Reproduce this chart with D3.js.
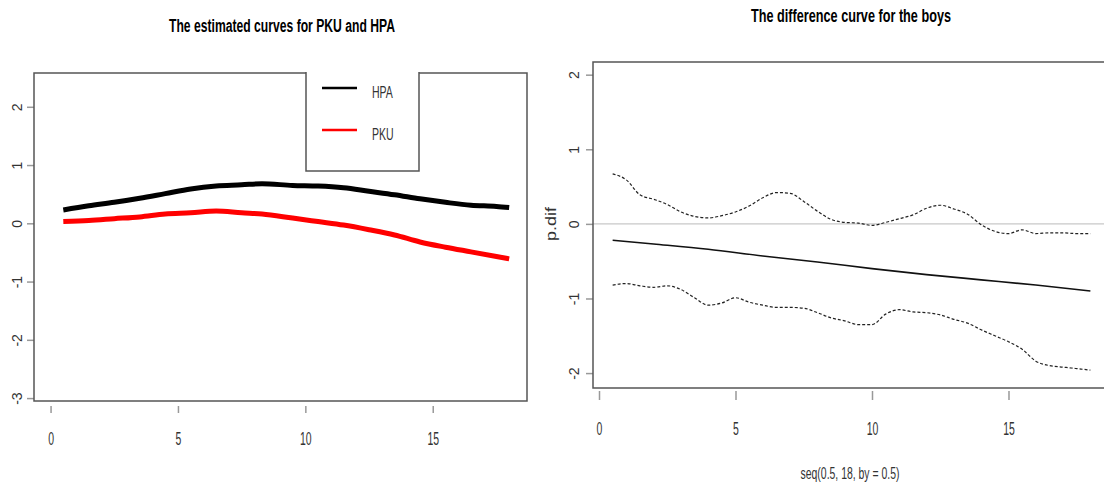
<!DOCTYPE html>
<html>
<head>
<meta charset="utf-8">
<script src="https://cdn.jsdelivr.net/npm/d3@7"></script>
<style>
    body { margin: 0; background: #fff; }
    svg { display: block; }
    text { font-family: "Liberation Sans", Arial, sans-serif; }
</style>
</head>
<body>
<div id="chart"></div>
<script>
// ---- data ----
const ageGrid = [0.5, 1.5, 2.5, 3.5, 4.5, 5.5, 6.5, 7.5, 8.3, 9.5, 10.5, 11.5, 12.5, 13.5, 14.5, 15.5, 16.5, 17.5, 18];
const hpaValues = [0.23, 0.30, 0.36, 0.43, 0.51, 0.59, 0.64, 0.66, 0.68, 0.65, 0.64, 0.61, 0.55, 0.49, 0.42, 0.36, 0.31, 0.29, 0.27];
const pkuValues = [0.03, 0.05, 0.08, 0.11, 0.16, 0.18, 0.21, 0.18, 0.16, 0.09, 0.03, -0.03, -0.11, -0.20, -0.32, -0.41, -0.49, -0.57, -0.61];

const seqGrid = [0.5, 1, 1.5, 2, 2.5, 3, 3.5, 4, 4.5, 5, 5.5, 6, 6.5, 7, 7.5, 8, 8.5, 9, 9.5,
    10, 10.5, 11, 11.5, 12, 12.5, 13, 13.5, 14, 14.5, 15, 15.5, 16, 16.5, 17, 17.5, 18];
const upperBand = [0.67, 0.59, 0.39, 0.33, 0.26, 0.16, 0.10, 0.08, 0.11, 0.16, 0.24, 0.35, 0.42, 0.41, 0.30, 0.17, 0.06, 0.02, 0.01,
    -0.02, 0.02, 0.07, 0.12, 0.21, 0.25, 0.20, 0.13, -0.01, -0.10, -0.13, -0.08, -0.13, -0.12, -0.12, -0.13, -0.13];
const lowerBand = [-0.82, -0.80, -0.83, -0.85, -0.83, -0.88, -0.99, -1.09, -1.06, -0.99, -1.05, -1.09, -1.12, -1.12, -1.13, -1.19, -1.26, -1.30, -1.35,
    -1.35, -1.21, -1.15, -1.18, -1.19, -1.22, -1.28, -1.33, -1.42, -1.50, -1.58, -1.68, -1.84, -1.90, -1.92, -1.94, -1.96];
const difGrid = [0.5, 2, 4, 6, 8, 10, 12, 14, 16, 18];
const difValues = [-0.22, -0.27, -0.34, -0.43, -0.51, -0.60, -0.68, -0.75, -0.82, -0.90];

const xTicks = [0, 5, 10, 15];
const leftYTicks = [-3, -2, -1, 0, 1, 2];
const rightYTicks = [-2, -1, 0, 1, 2];
const legendNames = ["HPA", "PKU"];
const legendColors = ["#000000", "#ff0000"];

const W = 1104, H = 490;
const svg = d3.select("#chart").append("svg")
    .attr("width", W).attr("height", H);

const boxColor = "#555";
const tickColor = "#999";
const labelColor = "#333";

// squeeze a text node horizontally to mimic the condensed font of the original
function narrow(sel, factor) {
    sel.each(function() {
        const w = this.getComputedTextLength();
        d3.select(this)
            .attr("textLength", w * factor)
            .attr("lengthAdjust", "spacingAndGlyphs");
    });
}

// ---------------- left panel ----------------
const lx = d3.scaleLinear().domain([-0.65, 18.7]).range([34, 527]);
const ly = d3.scaleLinear().domain([-3.05, 2.58]).range([401, 73]);

svg.append("text")
    .attr("x", 282).attr("y", 32)
    .attr("text-anchor", "middle")
    .attr("textLength", 226).attr("lengthAdjust", "spacingAndGlyphs")
    .style("font-size", "18px")
    .style("font-weight", "bold")
    .text("The estimated curves for PKU and HPA");

// x ticks sit below the box, detached
const lxAxis = svg.append("g")
    .attr("transform", "translate(0,406)")
    .call(d3.axisBottom(lx).tickValues(xTicks).tickSize(7).tickPadding(0));
lxAxis.select(".domain").remove();
lxAxis.selectAll("text").attr("y", 39).attr("dy", null);

const lyAxis = svg.append("g")
    .attr("transform", "translate(34,0)")
    .call(d3.axisLeft(ly).tickValues(leftYTicks).tickSize(7).tickFormat(d => d));
lyAxis.select(".domain").remove();
lyAxis.selectAll("text")
    .attr("transform", "rotate(-90, -17, 0)")
    .attr("x", -17).attr("y", 0).attr("dy", "0.35em")
    .style("text-anchor", "middle");

const hpa = ageGrid.map((a, i) => ({x: a, y: hpaValues[i]}));
const pku = ageGrid.map((a, i) => ({x: a, y: pkuValues[i]}));

const leftLine = d3.line()
    .x(d => lx(d.x))
    .y(d => ly(d.y))
    .curve(d3.curveMonotoneX);

svg.append("path").datum(hpa)
    .attr("fill", "none").attr("stroke", "#000").attr("stroke-width", 5)
    .attr("d", leftLine);
svg.append("path").datum(pku)
    .attr("fill", "none").attr("stroke", "#ff0000").attr("stroke-width", 5)
    .attr("d", leftLine);

svg.append("rect")
    .attr("x", lx.range()[0]).attr("y", ly.range()[1])
    .attr("width", lx.range()[1] - lx.range()[0])
    .attr("height", ly.range()[0] - ly.range()[1])
    .attr("fill", "none").attr("stroke", boxColor).attr("stroke-width", 1.5);

// legend drawn over the top border, open at the top
const lg = {x0: 306, x1: 419, y0: 73, y1: 171};
svg.append("rect")
    .attr("x", lg.x0).attr("y", lg.y0 - 1)
    .attr("width", lg.x1 - lg.x0).attr("height", lg.y1 - lg.y0 + 1)
    .attr("fill", "#fff");
svg.append("path")
    .attr("d", `M${lg.x0},${lg.y0 - 1}V${lg.y1}H${lg.x1}V${lg.y0 - 1}`)
    .attr("fill", "none").attr("stroke", boxColor).attr("stroke-width", 1.5);

const legendItems = svg.selectAll(".legend-item")
    .data(legendNames)
    .join("g")
    .attr("class", "legend-item")
    .attr("transform", (d, i) => `translate(0, ${88 + i * 42})`);
legendItems.append("line")
    .attr("x1", 322).attr("x2", 357)
    .attr("stroke", (d, i) => legendColors[i]).attr("stroke-width", 2.5);
legendItems.append("text")
    .attr("x", 372).attr("y", 10)
    .style("font-size", "17px").attr("fill", labelColor)
    .text(d => d)
    .call(narrow, 0.62);

// ---------------- right panel ----------------
const rx = d3.scaleLinear().domain([-0.22, 18.7]).range([593, 1109.5]);
const ry = d3.scaleLinear().domain([-2.2, 2.17]).range([388, 62]);

svg.append("text")
    .attr("x", 851).attr("y", 22)
    .attr("text-anchor", "middle")
    .attr("textLength", 200).attr("lengthAdjust", "spacingAndGlyphs")
    .style("font-size", "18px")
    .style("font-weight", "bold")
    .text("The difference curve for the boys");

const rxAxis = svg.append("g")
    .attr("transform", "translate(0,391)")
    .call(d3.axisBottom(rx).tickValues(xTicks).tickSize(9).tickPadding(0));
rxAxis.select(".domain").remove();
rxAxis.selectAll("text").attr("y", 44).attr("dy", null);

const ryAxis = svg.append("g")
    .attr("transform", "translate(593,0)")
    .call(d3.axisLeft(ry).tickValues(rightYTicks).tickSize(7).tickFormat(d => d));
ryAxis.select(".domain").remove();
ryAxis.selectAll("text")
    .attr("transform", "rotate(-90, -19, 0)")
    .attr("x", -19).attr("y", 0).attr("dy", "0.35em")
    .style("text-anchor", "middle");

// axis styling shared by both panels
svg.selectAll(".tick line").attr("stroke", tickColor).attr("stroke-width", 1.5);
svg.selectAll(".tick text")
    .attr("fill", labelColor)
    .style("font-family", null);
[lxAxis, rxAxis].forEach(ax => {
    ax.selectAll("text").style("font-size", "19px").call(narrow, 0.55);
});
[lyAxis, ryAxis].forEach(ax => {
    ax.selectAll("text").style("font-size", "14px");
});

svg.append("text")
    .attr("x", 850).attr("y", 479)
    .attr("text-anchor", "middle")
    .attr("textLength", 99).attr("lengthAdjust", "spacingAndGlyphs")
    .style("font-size", "16px").attr("fill", labelColor)
    .text("seq(0.5, 18, by = 0.5)");

svg.append("text")
    .attr("transform", `translate(556, ${ry(0)}) rotate(-90)`)
    .attr("text-anchor", "middle")
    .attr("textLength", 34).attr("lengthAdjust", "spacingAndGlyphs")
    .style("font-size", "14px").attr("fill", labelColor)
    .text("p.dif");

// zero reference line
svg.append("line")
    .attr("x1", rx.range()[0]).attr("x2", W)
    .attr("y1", ry(0)).attr("y2", ry(0))
    .attr("stroke", "#c8c8c8").attr("stroke-width", 1.2);

const rightLine = d3.line()
    .x(d => rx(d.x))
    .y(d => ry(d.y))
    .curve(d3.curveMonotoneX);

const upper = seqGrid.map((s, i) => ({x: s, y: upperBand[i]}));
const lower = seqGrid.map((s, i) => ({x: s, y: lowerBand[i]}));
const dif = difGrid.map((s, i) => ({x: s, y: difValues[i]}));

[upper, lower].forEach(band => {
    svg.append("path").datum(band)
        .attr("fill", "none").attr("stroke", "#222").attr("stroke-width", 1.2)
        .attr("stroke-dasharray", "3,2")
        .attr("d", rightLine);
});
svg.append("path").datum(dif)
    .attr("fill", "none").attr("stroke", "#111").attr("stroke-width", 1.6)
    .attr("d", rightLine);

// box is cut off by the right edge of the window
svg.append("rect")
    .attr("x", rx.range()[0]).attr("y", ry.range()[1])
    .attr("width", rx.range()[1] - rx.range()[0])
    .attr("height", ry.range()[0] - ry.range()[1])
    .attr("fill", "none").attr("stroke", boxColor).attr("stroke-width", 1.5);
</script>
</body>
</html>
